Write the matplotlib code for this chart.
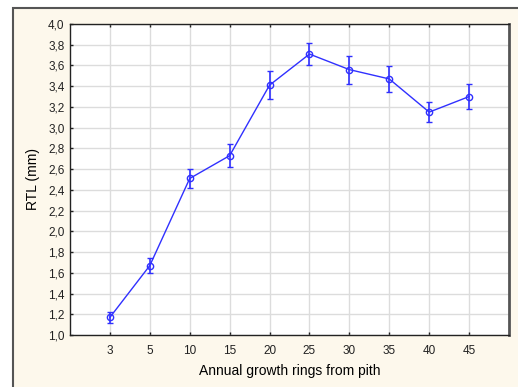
import matplotlib.pyplot as plt
from matplotlib.patches import Rectangle
from matplotlib.ticker import FuncFormatter, MultipleLocator

plt.rcParams.update({'font.size': 8.5, 'font.family': 'Liberation Sans'})

rings = ['3', '5', '10', '15', '20', '25', '30', '35', '40', '45']
rtl = [1.17, 1.67, 2.51, 2.73, 3.41, 3.71, 3.56, 3.47, 3.15, 3.30]
err = [0.055, 0.075, 0.09, 0.11, 0.135, 0.11, 0.135, 0.125, 0.10, 0.12]

blue = '#3030ff'
cream = '#fdf8ec'

fig = plt.figure(figsize=(5.18, 3.87), dpi=100)
fig.patch.set_facecolor('white')
# outer panel
fig.patches.append(Rectangle((13 / 518, -0.01), 1.0, 1 - 7.5 / 387 + 0.01,
                             transform=fig.transFigure, facecolor=cream,
                             edgecolor='#555555', linewidth=1.5, zorder=-5))

ax = fig.add_axes([70 / 518, 52 / 387, 439 / 518, 311 / 387])
ax.set_zorder(2)
ax.set_facecolor('white')

x = list(range(1, len(rings) + 1))
ax.errorbar(x, rtl, yerr=err, color=blue, ecolor=blue, linewidth=1.0,
            elinewidth=1.2, capsize=2, capthick=1.0, marker='o', markersize=4.5,
            markerfacecolor='none', markeredgecolor=blue, markeredgewidth=1.0, zorder=3)

ax.set_xlim(0, 11)
ax.set_ylim(1.0, 4.0)
ax.set_xticks(x)
ax.set_xticklabels(rings)
ax.yaxis.set_major_locator(MultipleLocator(0.2))
ax.yaxis.set_major_formatter(FuncFormatter(lambda v, p: ('%.1f' % v).replace('.', ',')))
ax.grid(True, color='#dcdcdc', linewidth=1.0, zorder=0)
ax.set_axisbelow(True)

ax.tick_params(axis='both', direction='in', length=2.5, width=1, colors='#222222')
ax.tick_params(axis='y', pad=4)
ax.tick_params(axis='x', top=True, pad=7)
for s in ax.spines.values():
    s.set_color('#222222')
    s.set_linewidth(1.0)
ax.spines['right'].set_color('#555555')
ax.spines['right'].set_linewidth(2.0)

ax.set_xlabel('Annual growth rings from pith', fontsize=10, labelpad=5)
ax.set_ylabel('RTL (mm)', fontsize=10, labelpad=6)

plt.savefig('out.png', dpi=100, facecolor=fig.get_facecolor())
